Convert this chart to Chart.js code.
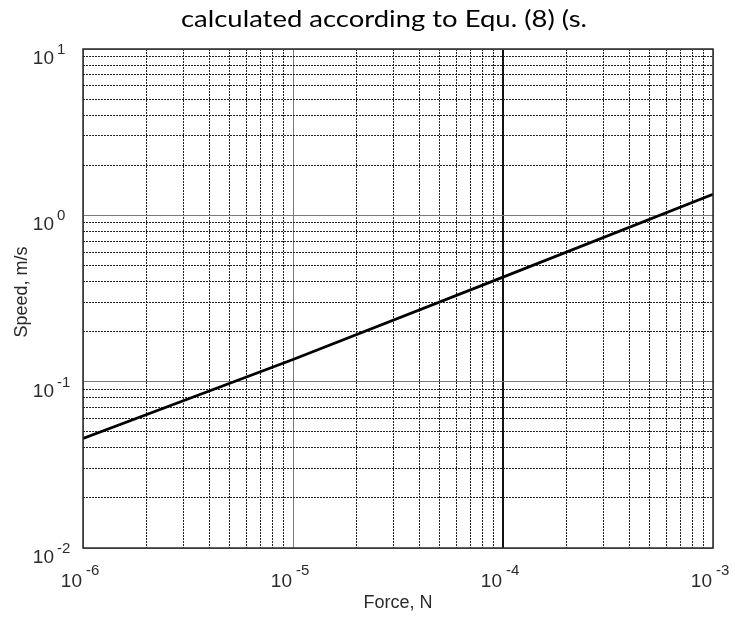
<!DOCTYPE html>
<html>
<head>
<meta charset="utf-8">
<script src="https://cdn.jsdelivr.net/npm/chart.js@4.4.0/dist/chart.umd.min.js"></script>
<style>
html, body { margin: 0; padding: 0; background: #fff; }
#wrap { width: 735px; height: 617px; }
</style>
</head>
<body>
<div id="wrap"><canvas id="graficoSpeed"></canvas></div>
<script>
// datos
const force = [1e-6, 1e-5, 1e-4, 1e-3];
const speed = [0.0455, 0.136, 0.425, 1.34];

const xTicks = [
    1e-6, 2e-6, 3e-6, 4e-6, 5e-6, 6e-6, 7e-6, 8e-6, 9e-6,
    1e-5, 2e-5, 3e-5, 4e-5, 5e-5, 6e-5, 7e-5, 8e-5, 9e-5,
    1e-4, 2e-4, 3e-4, 4e-4, 5e-4, 6e-4, 7e-4, 8e-4, 9e-4,
    1e-3,
];
const yTicks = [
    0.01, 0.02, 0.03, 0.04, 0.05, 0.06, 0.07, 0.08, 0.09,
    0.1, 0.2, 0.3, 0.4, 0.5, 0.6, 0.7, 0.8, 0.9,
    1, 2, 3, 4, 5, 6, 7, 8, 9,
    10,
];
const xDecades = [1e-6, 1e-5, 1e-4, 1e-3];
const xExponents = ["-6", "-5", "-4", "-3"];
const yDecades = [0.01, 0.1, 1, 10];
const yExponents = ["-2", "-1", "0", "1"];

const titulo = "calculated according to Equ. (8) (s.";
const xTitulo = "Force, N";
const yTitulo = "Speed, m/s";

const esDecada = (v) => Math.abs(Math.log10(v) - Math.round(Math.log10(v))) < 1e-6;

const colorGrid = (ctx) => {
    if (!ctx.tick) return "#222";
    const v = ctx.tick.value;
    if (!esDecada(v)) return "#222";
    if (Math.abs(v - 1e-4) < 1e-9) return "#111";
    return "#7a7a7a";
};
const anchoGrid = (ctx) => {
    if (ctx.tick && Math.abs(ctx.tick.value - 1e-4) < 1e-9) return 2;
    return 1;
};
const dashGrid = (ctx) => {
    if (ctx.tick && esDecada(ctx.tick.value)) return [];
    return [2, 1];
};

const etiquetas = {
    id: "etiquetas",
    afterDraw(chart) {
        const ctx = chart.ctx;
        const area = chart.chartArea;
        const sx = chart.scales.x;
        const sy = chart.scales.y;
        ctx.save();

        // marco
        ctx.strokeStyle = "#2a2a2a";
        ctx.lineWidth = 1.5;
        ctx.setLineDash([]);
        ctx.strokeRect(area.left, area.top, area.right - area.left, area.bottom - area.top);

        ctx.fillStyle = "#2b2b2b";
        ctx.textBaseline = "alphabetic";

        // eje x
        for (let i = 0; i < xDecades.length; i++) {
            const px = sx.getPixelForValue(xDecades[i]);
            ctx.font = "19px 'Liberation Sans', Arial, sans-serif";
            ctx.textAlign = "right";
            ctx.fillText("10", px - 1, area.bottom + 39);
            ctx.font = "15px 'Liberation Sans', Arial, sans-serif";
            ctx.textAlign = "left";
            ctx.fillText(xExponents[i], px + 3, area.bottom + 27);
        }
        // eje y
        for (let i = 0; i < yDecades.length; i++) {
            const py = sy.getPixelForValue(yDecades[i]);
            ctx.font = "19px 'Liberation Sans', Arial, sans-serif";
            ctx.textAlign = "right";
            ctx.fillText("10", area.left - 29, py + 15);
            ctx.font = "15px 'Liberation Sans', Arial, sans-serif";
            ctx.textAlign = "left";
            ctx.fillText(yExponents[i], area.left - 26, py + 5);
        }

        // titulos de ejes
        ctx.font = "18px 'Liberation Sans', Arial, sans-serif";
        ctx.textAlign = "center";
        ctx.fillText(xTitulo, (area.left + area.right) / 2, 608);
        ctx.save();
        ctx.translate(27, 292);
        ctx.rotate(-Math.PI / 2);
        ctx.fillText(yTitulo, 0, 0);
        ctx.restore();

        // titulo
        ctx.fillStyle = "#000";
        ctx.font = "24px Lato, 'Open Sans', sans-serif";
        ctx.textAlign = "center";
        const ancho = ctx.measureText(titulo).width;
        ctx.save();
        ctx.translate(384, 27);
        ctx.scale(406 / ancho, 1);
        ctx.fillText(titulo, 0, 0);
        ctx.restore();

        ctx.restore();
    },
};

const ctx1 = document.getElementById("graficoSpeed").getContext("2d");

new Chart(ctx1, {
    type: "scatter",
    data: {
        datasets: [
            {
                label: "Speed",
                data: force.map((f, i) => ({ x: f, y: speed[i] })),
                showLine: true,
                borderColor: "#000",
                backgroundColor: "#000",
                borderWidth: 2.8,
                pointRadius: 0,
                fill: false,
            },
        ],
    },
    options: {
        responsive: true,
        maintainAspectRatio: false,
        animation: false,
        layout: {
            padding: { left: 83, right: 22, top: 49, bottom: 69 },
        },
        plugins: {
            legend: { display: false },
            tooltip: { enabled: false },
        },
        scales: {
            x: {
                type: "logarithmic",
                min: 1e-6,
                max: 1e-3,
                afterBuildTicks: (scale) => {
                    scale.ticks = xTicks.map((v) => ({ value: v }));
                },
                ticks: { display: false, autoSkip: false },
                grid: {
                    drawTicks: false,
                    color: colorGrid,
                    lineWidth: anchoGrid,
                },
                border: { display: false, dash: dashGrid },
            },
            y: {
                type: "logarithmic",
                min: 0.01,
                max: 10,
                afterBuildTicks: (scale) => {
                    scale.ticks = yTicks.map((v) => ({ value: v }));
                },
                ticks: { display: false, autoSkip: false },
                grid: {
                    drawTicks: false,
                    color: colorGrid,
                    lineWidth: 1,
                },
                border: { display: false, dash: dashGrid },
            },
        },
    },
    plugins: [etiquetas],
});
</script>
</body>
</html>
